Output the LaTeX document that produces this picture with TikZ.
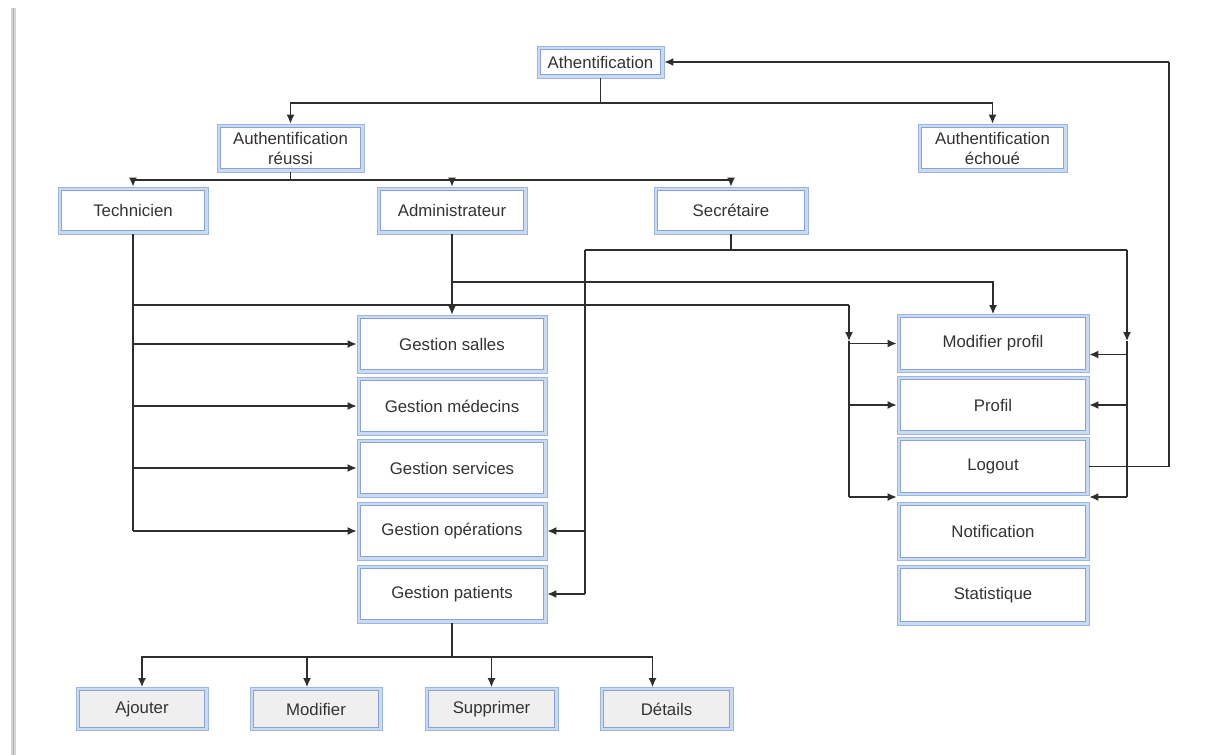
\documentclass[tikz,border=0pt]{standalone}
\usepackage{fontspec}
\setmainfont{Liberation Sans}
\usetikzlibrary{arrows.meta,calc}
\definecolor{bband}{HTML}{CADAF2}
\definecolor{bline}{HTML}{9DB6E0}
\definecolor{bline2}{HTML}{86A3D8}
\definecolor{gfill}{HTML}{EFEFEF}
\definecolor{txt}{HTML}{333333}
\definecolor{lin}{HTML}{2E2E2E}
\definecolor{barg}{HTML}{D4D4D4}
\newcommand\boxfont{\fontsize{16.8}{20}\selectfont}
\tikzset{
  dbox/.style={rectangle, draw=bline, line width=0.8pt, fill=bband, inner sep=0pt,
    text=txt, font=\boxfont, align=center,
    path picture={\draw[bline2, line width=0.8pt, fill=#1]
      ([shift={(3.2pt,3.2pt)}]path picture bounding box.south west) rectangle
      ([shift={(-3.2pt,-3.2pt)}]path picture bounding box.north east);}},
  dbox/.default=white,
  conn/.style={draw=lin, line width=1.3pt},
  arr/.style={conn, -{Latex[length=9pt,width=8pt]}},
}
\begin{document}
\begin{tikzpicture}[x=1pt,y=-1pt]
\useasboundingbox (0,0) rectangle (1211,755);
\fill[white] (0,0) rectangle (1211,755);
\fill[barg] (11,8) rectangle (16,755);
\draw[black!30, line width=1pt] (13.5,8) -- (13.5,755);

% nodes
\node[dbox, minimum width=127, minimum height=32] (auth) at (600.5,62) {Athentification};
\node[dbox, minimum width=147, minimum height=48] (reussi) at (290.5,148) {Authentification\\réussi};
\node[dbox, minimum width=149, minimum height=48] (echoue) at (992.5,148) {Authentification\\échoué};
\node[dbox, minimum width=150, minimum height=47] (tech) at (133,210.5) {Technicien};
\node[dbox, minimum width=150, minimum height=47] (admin) at (452,210.5) {Administrateur};
\node[dbox, minimum width=154, minimum height=47] (secr) at (731,210.5) {Secrétaire};

\node[dbox, minimum width=190, minimum height=58] (gsal) at (452,344) {Gestion salles};
\node[dbox, minimum width=190, minimum height=58] (gmed) at (452,406) {Gestion médecins};
\node[dbox, minimum width=190, minimum height=58] (gser) at (452,468) {Gestion services};
\node[dbox, minimum width=190, minimum height=58] (gop) at (452,531) {Gestion opérations};
\node[dbox, minimum width=190, minimum height=58] (gpat) at (452,594) {Gestion patients};

\node[dbox, minimum width=192, minimum height=58] (modp) at (993,343.5) {Modifier profil};
\node[dbox, minimum width=192, minimum height=58] (prof) at (993,405) {Profil};
\node[dbox, minimum width=192, minimum height=58] (logo) at (993,466.5) {Logout};
\node[dbox, minimum width=192, minimum height=58] (notif) at (993,531.5) {Notification};
\node[dbox, minimum width=192, minimum height=60] (stat) at (993,595) {Statistique};

\node[dbox=gfill, minimum width=132, minimum height=43] (bajo) at (142,709) {Ajouter};
\node[dbox=gfill, minimum width=132, minimum height=43] (bmod) at (316,709) {Modifier};
\node[dbox=gfill, minimum width=133, minimum height=43] (bsup) at (491.5,709) {Supprimer};
\node[dbox=gfill, minimum width=133, minimum height=43] (bdet) at (666.5,709) {Détails};

% junction coordinates
\coordinate (j1) at (600.5,103);
\coordinate (j2) at (290.5,180);
\coordinate (t1) at (133,305);
\coordinate (r1) at (849,305);
\coordinate (r1a) at (849,341);
\coordinate (r1b) at (849,497);
\coordinate (a1) at (452,282);
\coordinate (s1) at (731,250);
\coordinate (s2) at (585,250);
\coordinate (s3) at (1127,250);
\coordinate (s3a) at (1127,341);
\coordinate (s3b) at (1127,497);
\coordinate (m2) at ([yshift=-11pt]modp.east);
\coordinate (l2) at (1169,62);
\coordinate (p1) at (452,657);

% top
\draw[conn] (auth.south) -- (j1);
\draw[arr] (j1) -| (reussi.north);
\draw[arr] (j1) -| (echoue.north);
\draw[conn] (reussi.south) -- (j2);
\draw[arr] (j2) -| (tech.north);
\draw[arr] (j2) -| (admin.north);
\draw[arr] (j2) -| (secr.north);

% technicien
\draw[conn] (tech.south) -- (tech.south |- gop.west);
\draw[arr] (tech.south |- gsal.west) -- (gsal.west);
\draw[arr] (tech.south |- gmed.west) -- (gmed.west);
\draw[arr] (tech.south |- gser.west) -- (gser.west);
\draw[arr] (tech.south |- gop.west) -- (gop.west);
\draw[conn] (t1) -- (r1);
\draw[arr] (r1) -- (r1a);
\draw[conn] (r1a) -- (r1b);
\draw[arr] (r1 |- modp.west) -- (modp.west);
\draw[arr] (r1 |- prof.west) -- (prof.west);
\draw[arr] (r1b) -- (r1b -| logo.west);

% administrateur
\draw[arr] (admin.south) -- (gsal.north);
\draw[arr] (a1) -| (modp.north);

% secretaire
\draw[conn] (secr.south) -- (s1);
\draw[conn] (s2) -- (s3);
\draw[conn] (s2) -- (s2 |- gpat.east);
\draw[arr] (s2 |- gop.east) -- (gop.east);
\draw[arr] (s2 |- gpat.east) -- (gpat.east);
\draw[arr] (s3) -- (s3a);
\draw[conn] (s3a) -- (s3b);
\draw[arr] (s3 |- m2) -- (m2);
\draw[arr] (s3 |- prof.east) -- (prof.east);
\draw[arr] (s3b) -- (s3b -| logo.east);

% logout back to authentification
\draw[conn] (logo.east) -| (l2);
\draw[arr] (l2) -- (auth.east);

% gestion patients children
\draw[conn] (gpat.south) -- (p1);
\draw[arr] (p1) -| (bajo.north);
\draw[arr] (p1) -| ([xshift=-9pt]bmod.north);
\draw[arr] (p1) -| (bsup.north);
\draw[arr] (p1) -| ([xshift=-14pt]bdet.north);
\end{tikzpicture}
\end{document}
